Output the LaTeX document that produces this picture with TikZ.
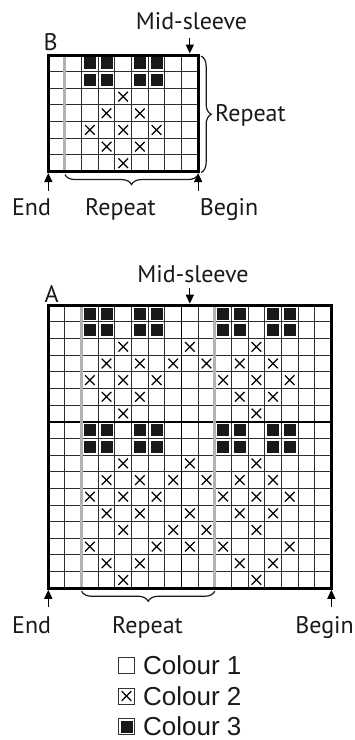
\documentclass[tikz,border=0pt]{standalone}
\usepackage{fontspec}
\setmainfont{PT Sans}
\newfontfamily\legendfont{Liberation Sans}
\usetikzlibrary{arrows.meta,decorations.pathreplacing}
\def\cs{16.65}
\begin{document}
\begin{tikzpicture}[x=1pt,y=-1pt,
  gridline/.style={line width=0.95pt, black!82},
  repline/.style={line width=3pt, black!30},
  border/.style={line width=3pt, black, line cap=rect},
  midline/.style={line width=1.6pt, black},
  xmark/.style={line width=1.25pt, black},
  fillsq/.style={fill=black!90, draw=none},
  lbl/.style={font=\fontsize{24}{26}\selectfont, inner sep=0pt, text=black!90},
  leg/.style={font=\legendfont\fontsize{26}{28}\selectfont, inner sep=0pt, anchor=base west, text=black!90},
  legbox/.style={draw=black!80, line width=0.9pt, fill=white},
  ptr/.style={line width=1.3pt, -{Triangle[length=9pt,width=8pt]}},
  brc/.style={decorate, decoration={brace, amplitude=10pt}, line width=1.2pt, black!90},
]
\useasboundingbox[fill=white] (0,0) rectangle (355,740);

% ---------------- Chart B ----------------
\begin{scope}[shift={(48.3,55)}]
  \foreach \i in {1,...,8} \draw[gridline] ({\i*\cs},0) -- ({\i*\cs},{7*\cs});
  \foreach \j in {1,...,6} \draw[gridline] (0,{\j*\cs}) -- ({9*\cs},{\j*\cs});
  \draw[repline] ({\cs},0) -- ({\cs},{7*\cs});
  \foreach \c/\r in {3/1,4/1,6/1,7/1,3/2,4/2,6/2,7/2}
    \fill[fillsq] ({(\c-0.5)*\cs-6},{(\r-0.5)*\cs-6}) rectangle ++(12,12);
  \foreach \c/\r in {5/3,4/4,6/4,3/5,5/5,7/5,4/6,6/6,5/7}
    \draw[xmark] ({(\c-0.5)*\cs-4.8},{(\r-0.5)*\cs-4.8}) -- ++(9.6,9.6)
                 ({(\c-0.5)*\cs-4.8},{(\r-0.5)*\cs+4.8}) -- ++(9.6,-9.6);
  \draw[border] (0,0) rectangle ({9*\cs},{7*\cs});
  \coordinate (Bmidtip) at ({8.5*\cs},-1.5);
  \coordinate (Bmidtail) at ({8.5*\cs},-17);
  \coordinate (Bendtip) at (0,{7*\cs+1.5});
  \coordinate (Bendtail) at (0,{7*\cs+19});
  \coordinate (Bbegtip) at ({9*\cs},{7*\cs+1.5});
  \coordinate (Bbegtail) at ({9*\cs},{7*\cs+19});
  \coordinate (Bbr1) at ({9*\cs},{7*\cs+3});
  \coordinate (Bbr2) at ({\cs},{7*\cs+3});
  \coordinate (Bvr1) at ({9*\cs+3},1);
  \coordinate (Bvr2) at ({9*\cs+3},{7*\cs+1});
\end{scope}
\node[lbl, anchor=base] (midB) at (191.5,29) {Mid-sleeve};
\node[lbl, anchor=base west] (labB) at (43.5,50) {B};
\draw[ptr] (Bmidtail) -- (Bmidtip);
\draw[ptr] (Bendtail) -- (Bendtip);
\draw[ptr] (Bbegtail) -- (Bbegtip);
\draw[brc] (Bbr1) -- (Bbr2);
\draw[brc] (Bvr1) -- (Bvr2);
\node[lbl, anchor=base west] (repBr) at (215,121.5) {Repeat};
\node[lbl, anchor=base] (endB) at (31.5,215) {End};
\node[lbl, anchor=base] (repB) at (120.5,215) {Repeat};
\node[lbl, anchor=base] (begB) at (229,215) {Begin};

% ---------------- Chart A ----------------
\begin{scope}[shift={(48.3,305.2)}]
  \foreach \i in {1,...,16} \draw[gridline] ({\i*\cs},0) -- ({\i*\cs},{17*\cs});
  \foreach \j in {1,...,16} \draw[gridline] (0,{\j*\cs}) -- ({17*\cs},{\j*\cs});
  \draw[midline] ({8*\cs},0) -- ({8*\cs},{17*\cs});
  \draw[midline] (0,{7*\cs}) -- ({17*\cs},{7*\cs});
  \draw[repline] ({2*\cs},0) -- ({2*\cs},{17*\cs});
  \draw[repline] ({10*\cs},0) -- ({10*\cs},{17*\cs});
  \foreach \r in {1,2,8,9}
    \foreach \c in {3,4,6,7,11,12,14,15}
      \fill[fillsq] ({(\c-0.5)*\cs-6},{(\r-0.5)*\cs-6}) rectangle ++(12,12);
  \foreach \c/\r in {5/3,9/3,13/3,
                     4/4,6/4,8/4,10/4,12/4,14/4,
                     3/5,5/5,7/5,11/5,13/5,15/5,
                     4/6,6/6,12/6,14/6,
                     5/7,13/7,
                     5/10,9/10,13/10,
                     4/11,6/11,8/11,10/11,12/11,14/11,
                     3/12,5/12,7/12,11/12,13/12,15/12,
                     4/13,6/13,9/13,12/13,14/13,
                     5/14,8/14,10/14,13/14,
                     3/15,7/15,9/15,11/15,15/15,
                     4/16,6/16,12/16,14/16,
                     5/17,13/17}
    \draw[xmark] ({(\c-0.5)*\cs-4.8},{(\r-0.5)*\cs-4.8}) -- ++(9.6,9.6)
                 ({(\c-0.5)*\cs-4.8},{(\r-0.5)*\cs+4.8}) -- ++(9.6,-9.6);
  \draw[border] (0,0) rectangle ({17*\cs},{17*\cs});
  \coordinate (Amidtip) at ({8.5*\cs},-1.5);
  \coordinate (Amidtail) at ({8.5*\cs},-17);
  \coordinate (Aendtip) at (0,{17*\cs+1.5});
  \coordinate (Aendtail) at (0,{17*\cs+19});
  \coordinate (Abegtip) at ({17*\cs},{17*\cs+1.5});
  \coordinate (Abegtail) at ({17*\cs},{17*\cs+19});
  \coordinate (Abr1) at ({10*\cs},{17*\cs+3});
  \coordinate (Abr2) at ({2*\cs},{17*\cs+3});
\end{scope}
\node[lbl, anchor=base] (midA) at (193,282) {Mid-sleeve};
\node[lbl, anchor=base west] (labA) at (44.5,302) {A};
\draw[ptr] (Amidtail) -- (Amidtip);
\draw[ptr] (Aendtail) -- (Aendtip);
\draw[ptr] (Abegtail) -- (Abegtip);
\draw[brc] (Abr1) -- (Abr2);
\node[lbl, anchor=base] (endA) at (31.7,633) {End};
\node[lbl, anchor=base] (repA) at (147.5,633) {Repeat};
\node[lbl, anchor=base] (begA) at (324.5,633) {Begin};

% ---------------- Legend ----------------
\node[legbox, minimum size=16pt, inner sep=0pt] (box1) at (126.5,665.5) {};
\node[legbox, minimum size=16pt, inner sep=0pt] (box2) at (126.5,696) {};
\node[legbox, minimum size=16pt, inner sep=0pt] (box3) at (126.5,726.5) {};
\draw[xmark] ([shift={(-4.8,-4.8)}]box2.center) -- ([shift={(4.8,4.8)}]box2.center)
             ([shift={(-4.8,4.8)}]box2.center) -- ([shift={(4.8,-4.8)}]box2.center);
\fill[fillsq] ([shift={(-6,-6)}]box3.center) rectangle ([shift={(6,6)}]box3.center);
\node[leg] (leg1) at (143,674.5) {Colour 1};
\node[leg] (leg2) at (143,705) {Colour 2};
\node[leg] (leg3) at (143,735.5) {Colour 3};
\end{tikzpicture}
\end{document}
